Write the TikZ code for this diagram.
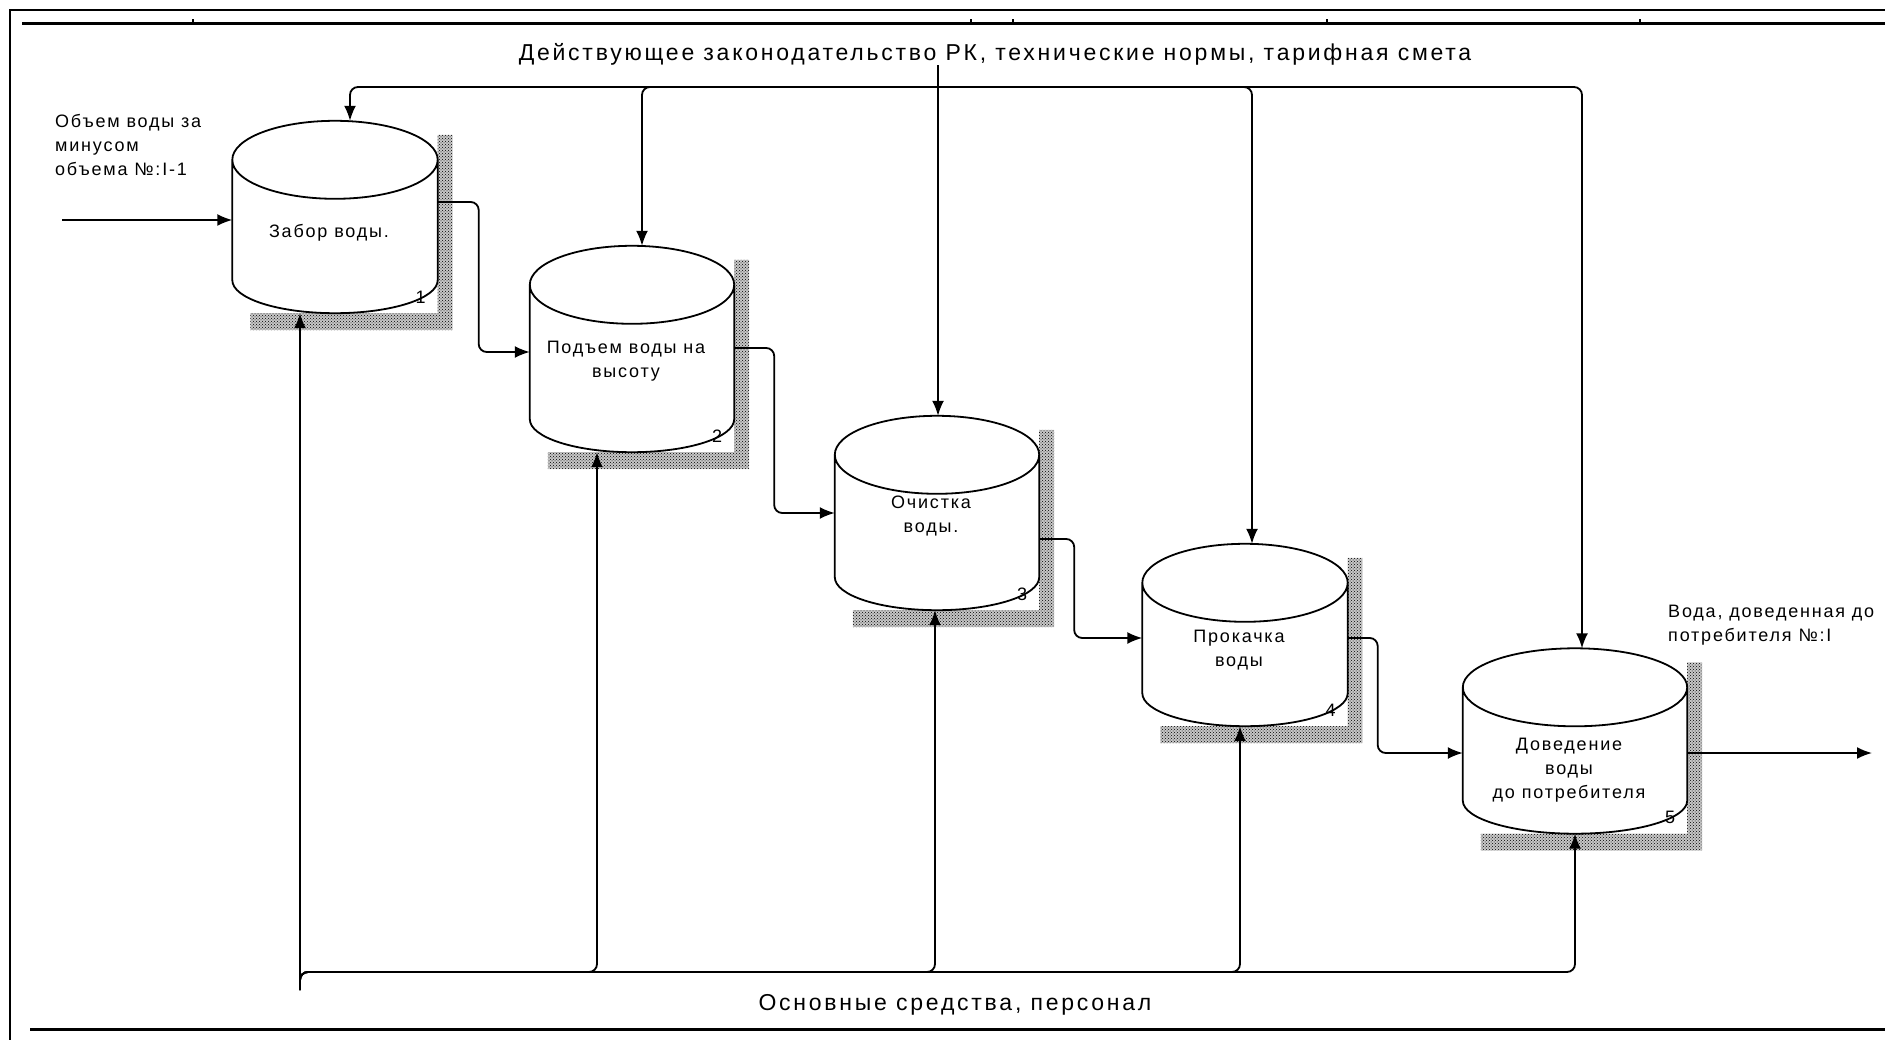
\documentclass[tikz,border=0pt]{standalone}
\usepackage{fontspec}
\setmainfont{Liberation Sans}
\newfontfamily\lblfont[LetterSpace=10]{Liberation Sans}
\newfontfamily\titlefont[LetterSpace=12]{Liberation Sans}
\usetikzlibrary{arrows.meta,calc,patterns}

\newcommand{\smalltext}{\lblfont\fontsize{18}{24}\selectfont}
\newcommand{\bigtext}{\titlefont\fontsize{23}{27}\selectfont}

\tikzset{
  flow/.style={->, line width=1.8pt, rounded corners=8pt},
  cylline/.style={line width=1.8pt},
  shadowfill/.style={preaction={fill=black!22}, pattern=crosshatch dots, pattern color=black},
  procbox/.style={draw=none, inner sep=0pt},
  proctext/.style={align=center, font=\smalltext, xshift=-6pt},
  numlbl/.style={font=\smalltext, inner sep=0pt},
  smalllbl/.style={align=left, font=\smalltext, inner sep=0pt},
  biglbl/.style={font=\bigtext, inner sep=0pt},
}

\begin{document}
\begin{tikzpicture}[x=1pt,y=-1pt,>={Latex[length=15pt,width=12pt]}]
  \useasboundingbox (0,0) rectangle (1885,1040);

  % frame
  \draw[line width=1.5pt] (10,1040) -- (10,10) -- (1885,10);
  \draw[line width=3pt] (22,24) -- (1885,24);
  \foreach \t in {193,971,1013,1327,1640}
    \draw[line width=1.5pt] (\t,24) -- (\t,19);
  \draw[line width=3pt] (30,1029) -- (1885,1029);

  % activities
  \node[procbox, minimum width=205, minimum height=120,
        label={[proctext, yshift=-13pt]center:Забор воды.}] (p1) at (335,220) {};
  \node[procbox, minimum width=204, minimum height=134,
        label={[proctext, yshift=-9pt]center:Подъем воды на\\высоту}] (p2) at (632,352) {};
  \node[procbox, minimum width=204, minimum height=122,
        label={[proctext]center:Очистка\\воды.}] (p3) at (937,516) {};
  \node[procbox, minimum width=205, minimum height=110,
        label={[proctext, yshift=-12pt]center:Прокачка\\воды}] (p4) at (1245,638) {};
  \node[procbox, minimum width=224, minimum height=113,
        label={[proctext, yshift=-26pt]center:Доведение\\воды\\до потребителя}] (p5) at (1575,744) {};

  \foreach \c/\k in {p1/1,p2/2,p3/3,p4/4,p5/5}{
    \fill[shadowfill] ($(\c.north east)+(0,-25)$) rectangle ($(\c.south east)+(15,50)$)
                      ($(\c.south west)+(18,33)$) rectangle ($(\c.south east)+(15,50)$);
    \draw[cylline] let \p1=(\c.west), \p2=(\c.east), \n1={(\x2-\x1)/2} in
      (\c.north) ellipse[x radius=\n1, y radius=39pt]
      (\c.north west) -- (\c.south west)
        arc[start angle=180, end angle=360, x radius=\n1, y radius=33pt]
        -- (\c.north east);
    \node[numlbl] (num\k) at ($(\c.south east)+(-17,17)$) {\k};
  }

  % labels
  \node[smalllbl, anchor=north west] (inlbl) at (55,114) {Объем воды за\\минусом\\объема №:I-1};
  \node[smalllbl, anchor=north west] (outlbl) at (1668,605) {Вода, доведенная до\\потребителя №:I};
  \node[biglbl] (ctl) at (995,54) {Действующее законодательство РК, технические нормы, тарифная смета};
  \node[biglbl] (mech) at (955,1005) {Основные средства, персонал};

  \coordinate (inp) at (62,220);
  \coordinate (outp) at (1872,753);
  \coordinate (cbus) at (938,87);
  \coordinate (mbus) at (300,990);

  % input / output
  \draw[flow] (inp) -- (p1.west);
  \draw[flow] ([yshift=-9pt]p5.east) -- (outp);

  % between activities
  \draw[flow] ([yshift=18pt]p1.east) -- ++(41,0) |- (p2.west);
  \draw[flow] ([yshift=4pt]p2.east) -- ++(40,0) |- ([yshift=3pt]p3.west);
  \draw[flow] ([yshift=-23pt]p3.east) -- ++(35,0) |- (p4.west);
  \draw[flow] (p4.east) -- ++(30,0) |- ([yshift=-9pt]p5.west);

  % controls
  \draw[flow] (ctl.south -| cbus) -- ([xshift=1pt,yshift=39pt]p3.north);
  \draw[flow] (cbus) -| ([xshift=15pt,yshift=39pt]p1.north);
  \draw[flow] (cbus) -| ([xshift=10pt,yshift=39pt]p2.north);
  \draw[flow] (cbus) -| ([xshift=7pt,yshift=39pt]p4.north);
  \draw[flow] (cbus) -| ([xshift=7pt,yshift=39pt]p5.north);

  % mechanisms
  \draw[flow] (mbus) -- ([xshift=-35pt,yshift=-33pt]p1.south);
  \draw[flow] (mbus) -- ++(0,-18) -| ([xshift=-35pt,yshift=-33pt]p2.south);
  \draw[flow] (mbus) -- ++(0,-18) -| ([xshift=-2pt,yshift=-33pt]p3.south);
  \draw[flow] (mbus) -- ++(0,-18) -| ([xshift=-5pt,yshift=-33pt]p4.south);
  \draw[flow] (mbus) -- ++(0,-18) -| ([yshift=-33pt]p5.south);
\end{tikzpicture}
\end{document}
